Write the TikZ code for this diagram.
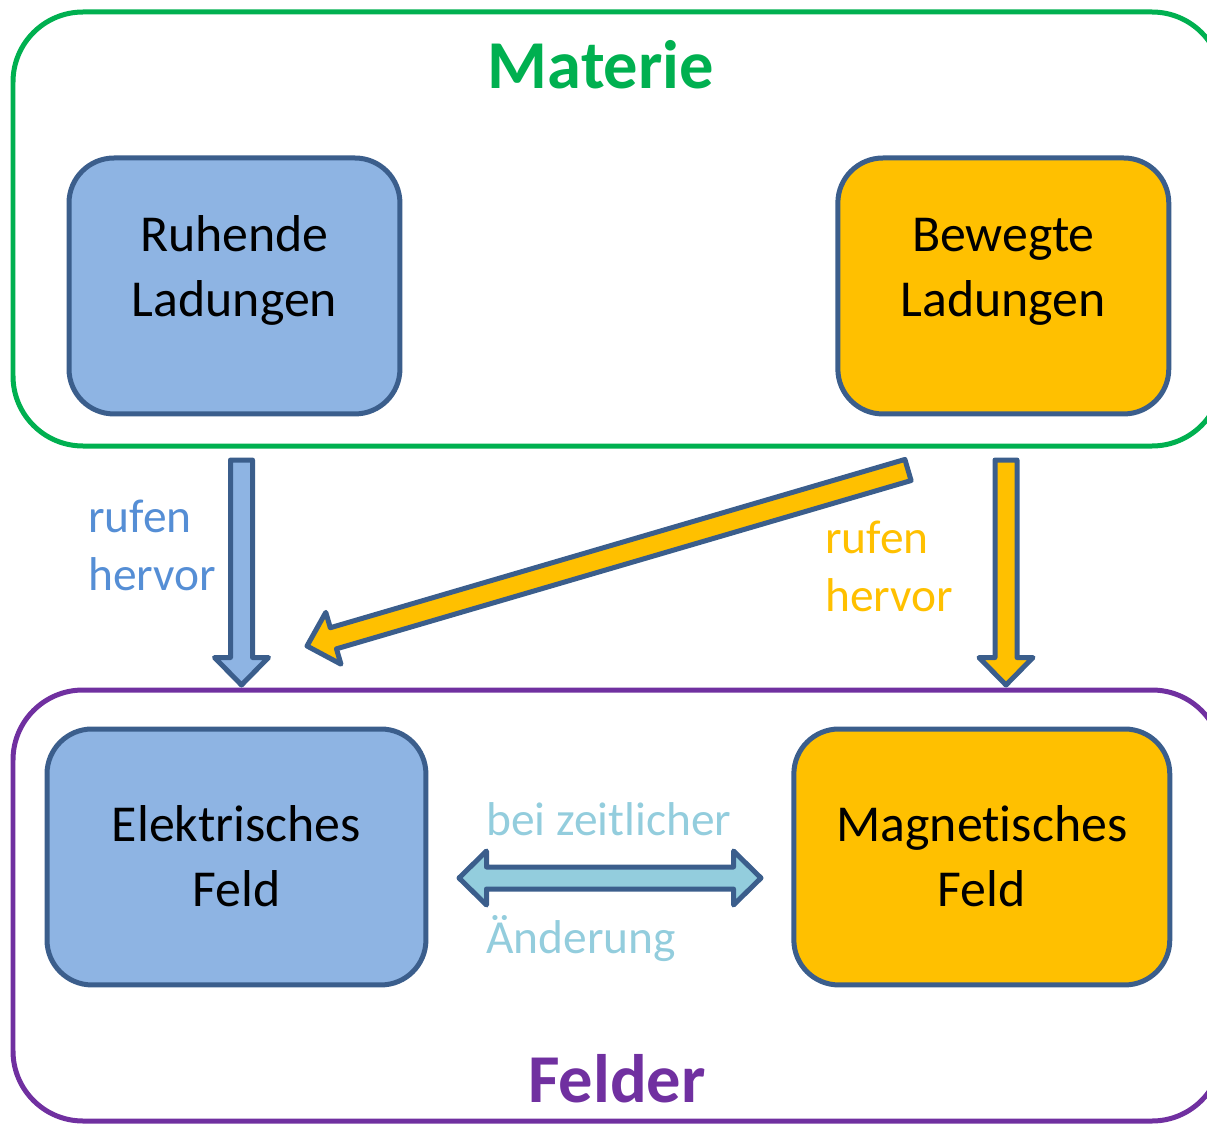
\documentclass[tikz,border=0pt]{standalone}
\usepackage{fontspec}
\setmainfont{Carlito}[Ligatures=NoCommon]
\usetikzlibrary{calc, positioning}

\definecolor{matgreen}{HTML}{00B050}
\definecolor{feldpurple}{HTML}{7030A0}
\definecolor{ladblue}{HTML}{8EB4E3}
\definecolor{ladorange}{HTML}{FFC000}
\definecolor{randblue}{HTML}{3B5E8C}
\definecolor{aendblue}{HTML}{93CDDD}
\definecolor{rufblue}{HTML}{558ED5}

\def\shaftw{0.22cm}
\def\headw{0.54cm}
\def\headlen{0.55cm}

% block arrow: style, start, end
\newcommand{\blockarrow}[3]{%
  \coordinate (hb) at ($(#3)!\headlen!(#2)$);
  \draw[#1] ($(#2)!\shaftw!90:(#3)$) -- ($(hb)!\shaftw!90:(#3)$) -- ($(hb)!\headw!90:(#3)$) -- (#3)
    -- ($(hb)!\headw!-90:(#3)$) -- ($(hb)!\shaftw!-90:(#3)$) -- ($(#2)!\shaftw!-90:(#3)$) -- cycle;
}
\newcommand{\doublearrow}[3]{%
  \coordinate (hl) at ($(#2)!\headlen!(#3)$);
  \coordinate (hr) at ($(#3)!\headlen!(#2)$);
  \draw[#1] (#2) -- ($(hl)!\headw!90:(#3)$) -- ($(hl)!\shaftw!90:(#3)$) -- ($(hr)!\shaftw!90:(#3)$)
    -- ($(hr)!\headw!90:(#3)$) -- (#3) -- ($(hr)!\headw!-90:(#3)$) -- ($(hr)!\shaftw!-90:(#3)$)
    -- ($(hl)!\shaftw!-90:(#3)$) -- ($(hl)!\headw!-90:(#3)$) -- cycle;
}

\tikzset{
  outerframe/.style={line width=0.1cm, rounded corners=1.4cm},
  ladbox/.style={draw=randblue, line width=0.1cm, rounded corners=0.9cm, inner sep=0pt, outer sep=0pt,
    align=center, font=\fontsize{29.5}{37.4}\selectfont},
  blockarr/.style={draw=randblue, line width=0.1cm, line join=round},
  hint/.style={inner sep=0pt, align=left, anchor=base west, font=\fontsize{27}{32.9}\selectfont},
  bigtitle/.style={inner sep=0pt, anchor=base, font=\fontsize{39}{47}\selectfont\bfseries},
}

\begin{document}
\begin{tikzpicture}[x=0.02cm, y=-0.02cm]
    \useasboundingbox (0,0) rectangle (1207,1125);

    \draw[outerframe, matgreen] (13,12) rectangle (1222,446);
    \draw[outerframe, feldpurple] (13,690) rectangle (1222,1121);
    \node[bigtitle, matgreen] (materie) at (601,89) {Materie};
    \node[bigtitle, feldpurple] (felder) at (617,1102) {Felder};

    % Materie
    \node[ladbox, fill=ladblue, minimum width=6.62cm, text height=3.18cm, text depth=1.94cm, anchor=north west]
        (ruhende) at (69,158) {Ruhende\\Ladungen};
    \node[ladbox, fill=ladorange, minimum width=6.62cm, text height=3.18cm, text depth=1.94cm, right=8.76cm of ruhende]
        (bewegte) {Bewegte\\Ladungen};

    % Felder
    \node[ladbox, fill=ladblue, minimum width=7.58cm, text height=3.56cm, text depth=1.56cm, anchor=north west]
        (elektrisch) at (47,729) {Elektrisches\\Feld};
    \node[ladbox, fill=ladorange, minimum width=7.52cm, text height=3.56cm, text depth=1.56cm, right=7.36cm of elektrisch]
        (magnetisch) {Magnetisches\\Feld};

    \node[hint, rufblue] (ruf-l) at (88,590) {rufen\\hervor};
    \node[hint, ladorange] (ruf-r) at (825,611) {rufen\\hervor};
    \node[hint, aendblue] (zeit) at (486,835) {bei zeitlicher};
    \node[hint, aendblue] (aend) at (486,953) {Änderung};

    \coordinate (ruh-s) at (241.5,460);
    \coordinate (ruh-e) at (241.5,685);
    \coordinate (bew-s) at (1006,460);
    \coordinate (bew-e) at (1006,685);
    \coordinate (diag-s) at (908,470);
    \coordinate (diag-e) at (307,646);
    \coordinate (dbl-l) at (459,878);
    \coordinate (dbl-r) at (761,878);

    \blockarrow{blockarr, fill=ladblue}{ruh-s}{ruh-e}
    \blockarrow{blockarr, fill=ladorange}{bew-s}{bew-e}
    \blockarrow{blockarr, fill=ladorange}{diag-s}{diag-e}
    \doublearrow{blockarr, fill=aendblue}{dbl-l}{dbl-r}
\end{tikzpicture}
\end{document}
